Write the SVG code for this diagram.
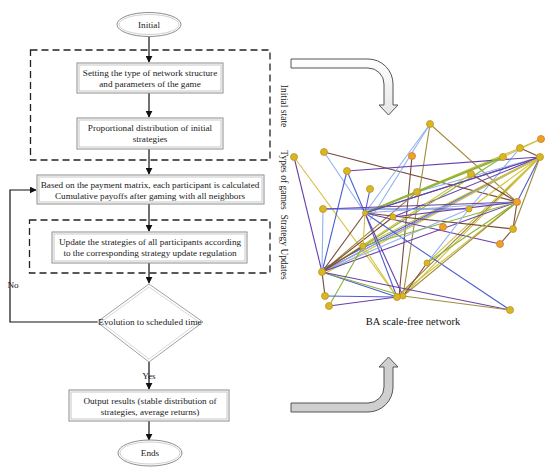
<svg xmlns="http://www.w3.org/2000/svg" width="550" height="473" viewBox="0 0 550 473">
<defs>
<style>
.t{font-family:"Liberation Serif","Times New Roman",serif;font-size:9.2px;fill:#1a1a1a;text-anchor:middle}
.side{font-family:"Liberation Serif","Times New Roman",serif;font-size:9.5px;fill:#222;text-anchor:middle}
.box{fill:#fff;stroke:#8c8c8c;stroke-width:1}
.inner{fill:none;stroke:#c8c8c8;stroke-width:1}
.dash{fill:none;stroke:#222;stroke-width:1.3;stroke-dasharray:7 4}
.con{fill:none;stroke:#111;stroke-width:1.2}
.e line{stroke-width:1.1}
.c1{stroke:#4a5fd0}.c2{stroke:#8fb2f0}.c3{stroke:#6a3fa8}.c4{stroke:#7a4a3a}.c5{stroke:#d2c23e}.c6{stroke:#8ab43a}.c7{stroke:#a08c3e}
.nd{fill:#d8b820;stroke:#c0902a;stroke-width:0.8}
.no{fill:#eca32a;stroke:#d07a2a;stroke-width:0.8}
</style>
<marker id="ah" viewBox="0 0 10 10" refX="9" refY="5" markerWidth="7" markerHeight="7" markerUnits="userSpaceOnUse" orient="auto">
<path d="M0,0 L10,5 L0,10 Z" fill="#111"/>
</marker>
<linearGradient id="wg" x1="0" y1="0" x2="0" y2="1">
<stop offset="0" stop-color="#ffffff"/><stop offset="1" stop-color="#e6e6e6"/>
</linearGradient>
</defs>
<rect width="550" height="473" fill="#fff"/>

<!-- dashed regions -->
<g id="regions">
<rect class="dash" x="30.5" y="50" width="239.5" height="110"/>
<rect class="dash" x="29.5" y="220" width="240.5" height="53"/>
<text class="side" transform="translate(281,106) rotate(90)">Initial state</text>
<text class="side" transform="translate(281,180) rotate(90)">Types of games</text>
<text class="side" transform="translate(281,247) rotate(90)">Strategy Updates</text>
</g>

<g id="connectors">
<line class="con" x1="149" y1="37" x2="149" y2="62" marker-end="url(#ah)"/>
<line class="con" x1="149" y1="93" x2="149" y2="117" marker-end="url(#ah)"/>
<line class="con" x1="149" y1="149" x2="149" y2="174" marker-end="url(#ah)"/>
<line class="con" x1="149" y1="204" x2="149" y2="231" marker-end="url(#ah)"/>
<line class="con" x1="149" y1="263" x2="149" y2="283" marker-end="url(#ah)"/>
<polyline class="con" points="97,322 10,322 10,190 36,190" marker-end="url(#ah)"/>
<line class="con" x1="149" y1="362" x2="149" y2="389" marker-end="url(#ah)"/>
<line class="con" x1="149" y1="421" x2="149" y2="440" marker-end="url(#ah)"/>
<text class="t" x="13" y="288">No</text>
<text class="t" x="149" y="379">Yes</text>
</g>

<g id="initial">
<ellipse cx="149" cy="24.5" rx="32" ry="12" fill="#fff" stroke="#8c8c8c"/>
<ellipse cx="149" cy="24.5" rx="30" ry="10" fill="none" stroke="#d0d0d0"/>
<text class="t" x="149" y="28">Initial</text>
</g>

<g id="setting">
<rect class="box" x="77" y="63" width="146" height="30"/>
<rect class="inner" x="79" y="65" width="142" height="26"/>
<text class="t" x="150" y="76">Setting the type of network structure</text>
<text class="t" x="150" y="87">and parameters of the game</text>
</g>

<g id="proportional">
<rect class="box" x="77" y="118" width="146" height="31"/>
<rect class="inner" x="79" y="120" width="142" height="27"/>
<text class="t" x="150" y="131">Proportional distribution of initial</text>
<text class="t" x="150" y="142">strategies</text>
</g>

<g id="payoff">
<rect class="box" x="37" y="175" width="227" height="29"/>
<rect class="inner" x="39" y="177" width="223" height="25"/>
<text class="t" x="150" y="188">Based on the payment matrix, each participant is calculated</text>
<text class="t" x="150" y="199">Cumulative payoffs after gaming with all neighbors</text>
</g>

<g id="update">
<rect class="box" x="52" y="232" width="195" height="31"/>
<rect class="inner" x="54" y="234" width="191" height="27"/>
<text class="t" x="150" y="245">Update the strategies of all participants according</text>
<text class="t" x="150" y="256">to the corresponding strategy update regulation</text>
</g>

<g id="evolution">
<polygon points="149,284 203,322 149,362 97,322" fill="#fff" stroke="#a0a0a0"/>
<polygon points="149,287 199,322 149,359 101,322" fill="none" stroke="#d8d8d8"/>
<text class="t" x="150" y="325">Evolution to scheduled time</text>
</g>

<g id="output">
<rect class="box" x="69" y="390" width="160" height="31"/>
<rect class="inner" x="71" y="392" width="156" height="27"/>
<text class="t" x="150" y="404">Output results (stable distribution of</text>
<text class="t" x="150" y="415">strategies, average returns)</text>
</g>

<g id="ends">
<ellipse cx="150" cy="453" rx="32" ry="13" fill="#fff" stroke="#8c8c8c"/>
<ellipse cx="150" cy="453" rx="30" ry="11" fill="none" stroke="#d0d0d0"/>
<text class="t" x="150" y="456">Ends</text>
</g>

<g id="arrow-top">
<path d="M291,59 H368 A25 25 0 0 1 393 84 V105 H398 L388.5 115 L379 105 H384 V84 A16 16 0 0 0 368 68 H291 Z" fill="url(#wg)" stroke="#555" stroke-width="1"/>
</g>
<g id="arrow-bottom">
<path d="M291,403 H368 A16 16 0 0 0 384 387 V367 H379 L388.5 357 L398 367 H393 V387 A25 25 0 0 1 368 412 H291 Z" fill="#cfcfcf" stroke="#555" stroke-width="1"/>
</g>

<g id="network">
<g class="e">
<line class="c3" x1="294" y1="157" x2="322" y2="272"/>
<line class="c5" x1="294" y1="157" x2="397" y2="297"/>
<line class="c4" x1="324" y1="152" x2="517" y2="202"/>
<line class="c2" x1="324" y1="152" x2="365" y2="213"/>
<line class="c1" x1="347" y1="171" x2="322" y2="272"/>
<line class="c1" x1="347" y1="171" x2="365" y2="213"/>
<line class="c1" x1="370" y1="189" x2="365" y2="213"/>
<line class="c4" x1="412" y1="156" x2="399" y2="297"/>
<line class="c2" x1="430" y1="124" x2="365" y2="213"/>
<line class="c2" x1="430" y1="124" x2="370" y2="220"/>
<line class="c7" x1="430" y1="124" x2="403" y2="296"/>
<line class="c7" x1="430" y1="124" x2="517" y2="202"/>
<line class="c5" x1="541" y1="139" x2="520" y2="148"/>
<line class="c5" x1="541" y1="139" x2="503" y2="157"/>
<line class="c4" x1="520" y1="148" x2="540" y2="157"/>
<line class="c5" x1="520" y1="148" x2="365" y2="213"/>
<line class="c2" x1="520" y1="148" x2="469" y2="209"/>
<line class="c3" x1="540" y1="157" x2="322" y2="272"/>
<line class="c1" x1="540" y1="157" x2="324" y2="268"/>
<line class="c2" x1="540" y1="157" x2="326" y2="270"/>
<line class="c5" x1="540" y1="157" x2="322" y2="275"/>
<line class="c1" x1="540" y1="157" x2="365" y2="213"/>
<line class="c3" x1="540" y1="157" x2="393" y2="217"/>
<line class="c7" x1="540" y1="157" x2="397" y2="297"/>
<line class="c5" x1="540" y1="157" x2="403" y2="296"/>
<line class="c1" x1="540" y1="157" x2="517" y2="202"/>
<line class="c7" x1="540" y1="157" x2="513" y2="229"/>
<line class="c5" x1="540" y1="157" x2="469" y2="209"/>
<line class="c5" x1="540" y1="157" x2="427" y2="263"/>
<line class="c5" x1="540" y1="157" x2="363" y2="246"/>
<line class="c2" x1="540" y1="157" x2="417" y2="192"/>
<line class="c3" x1="540" y1="157" x2="347" y2="171"/>
<line class="c6" x1="503" y1="157" x2="365" y2="213" style="stroke-width:2"/>
<line class="c6" x1="503" y1="157" x2="322" y2="272"/>
<line class="c4" x1="471" y1="174" x2="517" y2="202"/>
<line class="c5" x1="471" y1="174" x2="322" y2="272"/>
<line class="c7" x1="417" y1="192" x2="322" y2="272"/>
<line class="c2" x1="323" y1="209" x2="322" y2="272"/>
<line class="c3" x1="323" y1="209" x2="517" y2="202"/>
<line class="c1" x1="323" y1="209" x2="469" y2="209"/>
<line class="c4" x1="365" y1="213" x2="513" y2="229"/>
<line class="c3" x1="365" y1="213" x2="500" y2="244"/>
<line class="c1" x1="365" y1="213" x2="510" y2="310"/>
<line class="c1" x1="365" y1="213" x2="397" y2="297"/>
<line class="c3" x1="365" y1="213" x2="403" y2="296"/>
<line class="c4" x1="365" y1="213" x2="322" y2="272"/>
<line class="c2" x1="365" y1="213" x2="517" y2="202"/>
<line class="c3" x1="365" y1="213" x2="540" y2="157"/>
<line class="c4" x1="393" y1="217" x2="322" y2="272"/>
<line class="c3" x1="393" y1="217" x2="517" y2="202"/>
<line class="c2" x1="469" y1="209" x2="322" y2="272"/>
<line class="c3" x1="517" y1="202" x2="322" y2="272"/>
<line class="c5" x1="517" y1="202" x2="397" y2="297"/>
<line class="c7" x1="517" y1="202" x2="403" y2="296"/>
<line class="c4" x1="517" y1="202" x2="513" y2="229"/>
<line class="c4" x1="513" y1="229" x2="500" y2="244"/>
<line class="c6" x1="517" y1="202" x2="363" y2="246"/>
<line class="c6" x1="517" y1="202" x2="427" y2="263"/>
<line class="c2" x1="469" y1="209" x2="427" y2="263"/>
<line class="c6" x1="363" y1="246" x2="329" y2="306"/>
<line class="c5" x1="363" y1="246" x2="397" y2="297"/>
<line class="c5" x1="363" y1="246" x2="365" y2="213"/>
<line class="c4" x1="363" y1="246" x2="322" y2="272"/>
<line class="c1" x1="322" y1="272" x2="397" y2="297"/>
<line class="c6" x1="322" y1="272" x2="403" y2="296"/>
<line class="c3" x1="322" y1="272" x2="510" y2="310"/>
<line class="c4" x1="322" y1="272" x2="325" y2="296"/>
<line class="c1" x1="325" y1="296" x2="397" y2="297"/>
<line class="c3" x1="329" y1="306" x2="397" y2="297"/>
<line class="c7" x1="403" y1="296" x2="510" y2="310"/>
<line class="c4" x1="427" y1="263" x2="403" y2="296"/>
</g>
<g>
<circle class="nd" cx="294" cy="157" r="3.5"/>
<circle class="nd" cx="324" cy="152" r="3.5"/>
<circle class="nd" cx="347" cy="171" r="3.5"/>
<circle class="nd" cx="370" cy="189" r="3.5"/>
<circle class="no" cx="412" cy="156" r="3.5"/>
<circle class="nd" cx="430" cy="124" r="3.5"/>
<circle class="no" cx="541" cy="139" r="3.5"/>
<circle class="nd" cx="520" cy="148" r="3.5"/>
<circle class="nd" cx="540" cy="157" r="3.5"/>
<circle class="nd" cx="503" cy="157" r="3.5"/>
<circle class="nd" cx="471" cy="174" r="3.5"/>
<circle class="nd" cx="417" cy="192" r="3.5"/>
<circle class="nd" cx="323" cy="209" r="3.5"/>
<circle class="nd" cx="365" cy="213" r="2.5"/>
<circle class="nd" cx="393" cy="217" r="3"/>
<circle class="nd" cx="469" cy="209" r="3"/>
<circle class="no" cx="517" cy="202" r="3.5"/>
<circle class="no" cx="443" cy="227" r="3.5"/>
<circle class="nd" cx="513" cy="229" r="3.5"/>
<circle class="no" cx="500" cy="244" r="3.5"/>
<circle class="nd" cx="363" cy="246" r="3"/>
<circle class="nd" cx="322" cy="272" r="3.5"/>
<circle class="nd" cx="427" cy="263" r="3"/>
<circle class="nd" cx="325" cy="296" r="3.5"/>
<circle class="nd" cx="329" cy="306" r="3.5"/>
<circle class="nd" cx="397" cy="297" r="3.5"/>
<circle class="nd" cx="403" cy="296" r="3"/>
<circle class="nd" cx="510" cy="310" r="3.5"/>
</g>
<text x="413" y="325" style="font-family:'Liberation Serif','Times New Roman',serif;font-size:10.5px;fill:#111;text-anchor:middle">BA scale-free network</text>
</g>
</svg>
